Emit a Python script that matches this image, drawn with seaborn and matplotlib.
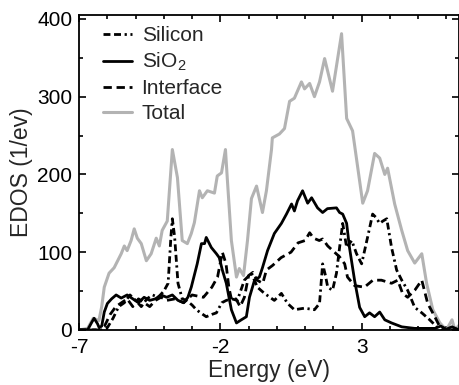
import numpy as np
import pandas as pd
import seaborn as sns
import matplotlib.pyplot as plt
from matplotlib.ticker import MultipleLocator

# values (energy in eV, EDOS in 1/eV)
si_e = [-7, -6.2, -6.0, -5.8, -5.6, -5.4, -5.2, -5.0, -4.8, -4.6, -4.4, -4.2, -4.0, -3.85,
        -3.75, -3.7, -3.62, -3.5, -3.35, -3.2, -3.0, -2.85, -2.7, -2.5, -2.3, -2.14, -1.95,
        -1.79, -1.6, -1.4, -1.15, -0.9, -0.69, -0.44, -0.09, 0.16, 0.38, 0.62, 0.98, 1.33,
        1.51, 1.62, 1.72, 1.8, 1.97, 2.11, 2.22, 2.33, 2.47, 2.65, 2.82, 3.0, 3.21, 3.39,
        3.5, 3.64, 3.75, 3.89, 4.06, 4.24, 4.42, 4.63, 4.88, 5.13, 5.41, 5.66, 5.8, 6.45]
si_y = [0, 0, 3, 15, 30, 35, 45, 38, 30, 40, 45, 42, 50, 60,
        120, 143, 120, 60, 40, 38, 32, 26, 22, 17, 20, 22, 35,
        38, 40, 38, 64, 73, 55, 47, 38, 47, 34, 26, 28, 26,
        34, 85, 70, 55, 51, 73, 106, 137, 106, 115, 98, 85, 119, 149,
        145, 137, 140, 143, 106, 77, 64, 51, 29, 22, 13, 4, 0, 0]

sio2_e = [-7, -6.7, -6.55, -6.47, -6.35, -6.29, -6.2, -6.11, -6.0, -5.85, -5.69, -5.51,
          -5.3, -5.1, -4.9, -4.7, -4.5, -4.3, -4.1, -3.9, -3.7, -3.5, -3.3, -3.15, -3.03,
          -2.82, -2.67, -2.56, -2.5, -2.32, -2.14, -2.04, -1.93, -1.79, -1.61, -1.43, -1.26,
          -1.08, -0.97, -0.79, -0.62, -0.51, -0.33, -0.09, 0.16, 0.34, 0.52, 0.62, 0.73,
          0.91, 1.09, 1.23, 1.44, 1.62, 1.79, 2.11, 2.22, 2.33, 2.47, 2.57, 2.75, 2.93,
          3.11, 3.28, 3.46, 3.64, 3.82, 4.06, 4.42, 4.88, 5.6, 5.8, 6.0, 6.2, 6.45]
sio2_y = [0, 0, 10, 15, 8, 3, 5, 23, 34, 40, 45, 41,
          45, 40, 35, 42, 38, 40, 45, 42, 45, 38, 35, 42, 55,
          85, 111, 111, 119, 106, 98, 93, 77, 60, 26, 9, 13,
          17, 42, 64, 68, 80, 102, 124, 137, 149, 162, 153, 166,
          179, 163, 170, 157, 151, 156, 157, 151, 149, 137, 106, 64, 29,
          17, 22, 17, 23, 13, 9, 4, 2, 2, 5, 1, 4, 0]

int_e = [-7, -6.3, -6.1, -5.9, -5.7, -5.5, -5.3, -5.1, -4.9, -4.7, -4.5, -4.3, -4.1,
         -3.9, -3.6, -3.3, -3.0, -2.6, -2.3, -2.1, -1.93, -1.8, -1.7, -1.6, -1.45, -1.3,
         -1.15, -1.0, -0.85, -0.7, -0.5, -0.37, -0.15, 0.15, 0.5, 0.75, 1.0, 1.16, 1.3,
         1.5, 1.62, 1.8, 2.04, 2.22, 2.4, 2.5, 2.75, 3.1, 3.4, 3.7, 4.06, 4.28, 4.45,
         4.63, 4.88, 5.13, 5.34, 5.59, 5.77, 6.0, 6.45]
int_y = [0, 0, 5, 20, 30, 35, 40, 30, 40, 35, 30, 38, 42,
         38, 40, 35, 45, 42, 55, 68, 100, 85, 55, 38, 40, 30,
         42, 70, 74, 64, 60, 77, 83, 93, 100, 112, 115, 125, 118,
         115, 117, 108, 100, 94, 85, 68, 57, 55, 64, 64, 60, 64, 47,
         42, 51, 64, 34, 17, 4, 0, 0]

tot_e = [-7, -6.7, -6.5, -6.3, -6.2, -6.11, -5.94, -5.76, -5.51, -5.4, -5.3, -5.16,
         -5.05, -4.94, -4.8, -4.62, -4.45, -4.27, -4.16, -4.06, -3.88, -3.7, -3.52, -3.35,
         -3.17, -3.03, -2.92, -2.74, -2.64, -2.46, -2.21, -2.11, -1.96, -1.82, -1.75,
         -1.61, -1.43, -1.33, -1.18, -1.04, -0.9, -0.72, -0.51, -0.37, -0.19, -0.16, 0.09,
         0.27, 0.45, 0.62, 0.87, 0.98, 1.16, 1.33, 1.51, 1.69, 1.97, 2.29, 2.47, 2.68,
         3.04, 3.21, 3.46, 3.64, 3.82, 3.92, 4.17, 4.42, 4.63, 4.88, 5.13, 5.3, 5.52,
         5.77, 6.0, 6.2, 6.3, 6.45]
tot_y = [0, 2, 15, 12, 30, 55, 73, 80, 98, 108, 102, 115,
         130, 118, 111, 89, 98, 118, 108, 128, 140, 232, 196, 115,
         111, 124, 138, 179, 170, 179, 176, 198, 202, 232, 192,
         115, 68, 79, 70, 115, 169, 185, 151, 179, 232, 247, 252,
         259, 294, 298, 319, 310, 317, 300, 319, 349, 307, 381, 272, 256,
         163, 179, 227, 221, 200, 208, 162, 128, 102, 86, 98, 60, 26,
         9, 0, 13, 0, 6]

series = ['Silicon', 'SiO$_2$', 'Interface', 'Total']

sns.set_style('ticks')
plt.rcParams['font.family'] = ['Liberation Sans', 'DejaVu Sans']
plt.rcParams['axes.unicode_minus'] = False
plt.rcParams['mathtext.fontset'] = 'custom'
plt.rcParams['mathtext.rm'] = 'Liberation Sans'

fig = plt.figure(figsize=(4.6, 3.85), dpi=100)
ax = fig.add_axes([0.172, 0.143, 0.826, 0.818])

lw = 2.0
sns.lineplot(x=si_e, y=si_y, ax=ax, color='black', lw=lw, label=series[0], zorder=3,
             linestyle=(0, (2.5, 1.3, 2.5, 1.3, 0.8, 1.3)))
sns.lineplot(x=sio2_e, y=sio2_y, ax=ax, color='black', lw=lw, label=series[1], zorder=3)
sns.lineplot(x=int_e, y=int_y, ax=ax, color='black', lw=lw, label=series[2], zorder=3,
             linestyle=(0, (3.0, 1.7)))
sns.lineplot(x=tot_e, y=tot_y, ax=ax, color='#b3b3b3', lw=lw + 0.2, label=series[3],
             zorder=2)

ax.set_xlim(-7, 6.45)
ax.set_ylim(0, 405)
ax.set_xticks([-7, -2, 3])
ax.set_yticks([0, 100, 200, 300, 400])
ax.xaxis.set_minor_locator(MultipleLocator(1))
ax.yaxis.set_minor_locator(MultipleLocator(50))
ax.tick_params(which='both', direction='in', top=True, right=True, labelsize=15,
               width=1.2, colors='black')
ax.tick_params(which='major', length=5)
ax.tick_params(which='minor', length=3)
ax.tick_params(axis='x', which='major', pad=6)
ax.tick_params(axis='y', which='major', pad=5)
for s in ax.spines.values():
    s.set_linewidth(1.3)
    s.set_color('black')

ax.set_xlabel('Energy (eV)', fontsize=16.5, labelpad=1)
ax.set_ylabel('EDOS (1/ev)', fontsize=16.5, labelpad=3)

ax.legend(loc='upper left', bbox_to_anchor=(0.063, 0.965), frameon=False, fontsize=15,
          borderpad=0, borderaxespad=0, handlelength=1.4, handletextpad=0.45,
          labelspacing=0.28)

fig.savefig('out.png', dpi=100)
